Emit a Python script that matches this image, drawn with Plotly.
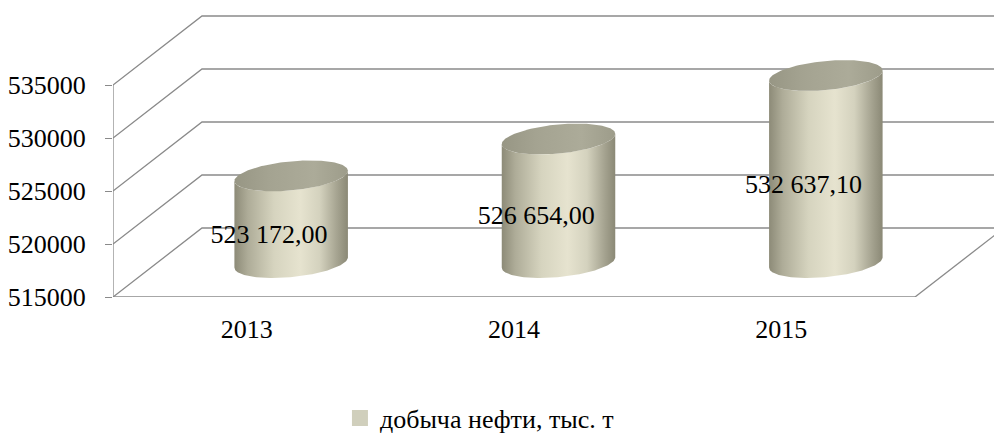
import numpy as np
import plotly.graph_objects as go

# --- data -------------------------------------------------------------
years = ["2013", "2014", "2015"]
oil_output = [523172.00, 526654.00, 532637.10]
series_name = "добыча нефти, тыс. т"
y_ticks = [515000, 520000, 525000, 530000, 535000]

# --- pseudo-3D frame parameters ----------------------------------------
FONT = "Liberation Serif"
GRID = "#8a8a8a"
Y_MIN = 515000
PX_PER_CAT = 802 / 3          # horizontal pixels per category slot
PX_PER_VAL = 212 / 20000      # vertical pixels per value unit
DEPTH_X = 89 / PX_PER_CAT     # oblique depth shift (category units)
DEPTH_Y = 69 / PX_PER_VAL     # oblique depth shift (value units)
PLOT_H_PX = 297
PLOT_W_PX = 994 - 113

n = len(years)
fig = go.Figure()


def line(xs, ys, color=GRID, width=1.3):
    fig.add_trace(go.Scatter(x=xs, y=ys, mode="lines", hoverinfo="skip",
                             line=dict(color=color, width=width), showlegend=False))


# back wall gridlines with their diagonals on the left side wall
far_right = n + DEPTH_X + 1
for v in y_ticks:
    line([0, DEPTH_X, far_right], [v, v + DEPTH_Y, v + DEPTH_Y])

# front floor edge, right floor diagonal, front value axis
line([0, n], [Y_MIN, Y_MIN])
line([n, n + DEPTH_X], [Y_MIN, Y_MIN + DEPTH_Y])
line([0, 0], [Y_MIN, y_ticks[-1]])

# category boundary ticks under the floor
for k in range(n + 1):
    fig.add_trace(go.Scatter(x=[k, k], y=[Y_MIN, Y_MIN - 8 / PX_PER_VAL], mode="lines",
                             line=dict(color=GRID, width=1.3), hoverinfo="skip",
                             showlegend=False, cliponaxis=False))

# --- cylinders ----------------------------------------------------------
A_PX, B_PX, TILT = 57.0, 14.5, np.deg2rad(5.5)
t0 = np.arctan2(-B_PX * np.sin(TILT), A_PX * np.cos(TILT))


def ellipse(cx, cy, t):
    ex = A_PX * np.cos(t) * np.cos(TILT) - B_PX * np.sin(t) * np.sin(TILT)
    ey = A_PX * np.cos(t) * np.sin(TILT) + B_PX * np.sin(t) * np.cos(TILT)
    return cx + ex / PX_PER_CAT, cy + ey / PX_PER_VAL


body_scale = [[0.0, "#8c8a77"], [0.12, "#aeac98"], [0.35, "#d6d4bf"],
              [0.58, "#e6e3cf"], [0.75, "#d4d2be"], [0.9, "#a6a491"], [1.0, "#8a8875"]]
top_scale = [[0.0, "#979684"], [0.3, "#a4a391"], [0.7, "#acab99"], [1.0, "#9d9c8a"]]

lower = np.linspace(t0 + np.pi, t0 + 2 * np.pi, 80)
full = np.linspace(0, 2 * np.pi, 160)
half_w = A_PX / PX_PER_CAT

for k, v in enumerate(oil_output):
    cx = k + 0.5 + DEPTH_X / 2
    base = Y_MIN + DEPTH_Y / 2
    top = v + DEPTH_Y / 2
    bx, by = ellipse(cx, base, lower)
    tx, ty = ellipse(cx, top, lower[::-1])
    fig.add_trace(go.Scatter(
        x=np.concatenate([bx, tx, bx[:1]]), y=np.concatenate([by, ty, by[:1]]),
        mode="lines", fill="toself", line=dict(width=0), hoverinfo="skip", showlegend=False,
        fillgradient=dict(type="horizontal", colorscale=body_scale,
                          start=cx - half_w, stop=cx + half_w)))
    cx_, cy_ = ellipse(cx, top, full)
    fig.add_trace(go.Scatter(
        x=cx_, y=cy_, mode="lines", fill="toself", line=dict(width=0),
        hoverinfo="skip", showlegend=False,
        fillgradient=dict(type="horizontal", colorscale=top_scale,
                          start=cx - half_w, stop=cx + half_w)))

# value labels, placed mid-height a quarter of the way into the depth
labels = [f"{v:,.2f}".replace(",", " ").replace(".", ",") for v in oil_output]
fig.add_trace(go.Scatter(
    x=[k + 0.5 + DEPTH_X / 4 for k in range(n)],
    y=[(Y_MIN + v) / 2 + DEPTH_Y / 4 for v in oil_output],
    mode="text", text=labels, textposition="middle center",
    textfont=dict(family=FONT, size=26, color="#000000"),
    hoverinfo="skip", showlegend=False))

# legend entry
fig.add_trace(go.Scatter(x=[None], y=[None], mode="markers", name=series_name,
                         marker=dict(symbol="square", size=16, color="#d0cfbc")))

fig.update_layout(
    width=994, height=436,
    margin=dict(l=113, r=0, t=0, b=436 - PLOT_H_PX),
    paper_bgcolor="white", plot_bgcolor="white",
    font=dict(family=FONT, size=26, color="#000000"),
    xaxis=dict(range=[0, PLOT_W_PX / PX_PER_CAT], showgrid=False, zeroline=False,
               showline=False, tickvals=[k + 0.5 for k in range(n)], ticktext=years,
               ticks="", ticklabelstandoff=14, tickfont=dict(family=FONT, size=26)),
    yaxis=dict(range=[Y_MIN, Y_MIN + PLOT_H_PX / PX_PER_VAL], showgrid=False,
               zeroline=False, showline=False, tickvals=y_ticks,
               ticktext=[str(v) for v in y_ticks], ticks="outside", ticklen=7,
               tickcolor=GRID, tickwidth=1.3, ticklabelstandoff=14,
               tickfont=dict(family=FONT, size=26)),
    showlegend=True,
    legend=dict(orientation="h", xref="container", yref="container",
                x=0.342, y=1 - 418 / 436, xanchor="left", yanchor="middle",
                font=dict(family=FONT, size=26), bgcolor="rgba(0,0,0,0)"),
)

fig.write_html("out.html")
